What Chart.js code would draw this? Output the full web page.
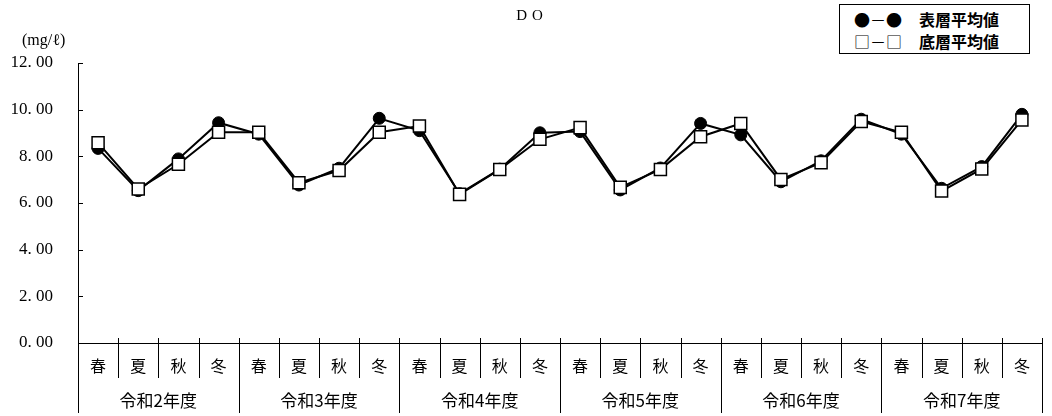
<!DOCTYPE html>
<html>
<head>
<meta charset="utf-8">
<script src="https://cdn.jsdelivr.net/npm/chart.js@4/dist/chart.umd.min.js"></script>
<style>
  html, body { margin: 0; padding: 0; background: #fff; }
  #wrap { position: relative; width: 1052px; height: 416px; overflow: hidden; }
  canvas { position: absolute; left: 0; top: 0; }
  .title { position: absolute; left: 480px; width: 104px; top: 7px; text-align: center;
           font-family: "Liberation Serif", "DejaVu Serif", serif; font-size: 15px; letter-spacing: 5px; color: #000; }
  .unit { position: absolute; left: 22px; top: 31px; font-family: "Liberation Serif", "DejaVu Serif", serif;
          font-size: 16px; color: #000; }
  .legend { position: absolute; left: 839px; top: 4px; width: 189px; height: 48px; border: 1.5px solid #000;
            background: #fff; font-family: "Noto Sans CJK JP", "Noto Sans", sans-serif; color: #000; }
  .row { position: absolute; left: 14px; height: 22px; line-height: 22px; white-space: nowrap; }
  .sym { display: inline-block; width: 65px; font-size: 16px; font-family: "Noto Sans CJK JP", sans-serif; }
  .lab { font-size: 16px; font-weight: bold; }
</style>
</head>
<body>
<div id="wrap">
  <canvas id="c" width="1052" height="416"></canvas>
  <div class="title">DO</div>
  <div class="unit">(mg/ℓ)</div>
  <div class="legend">
    <div class="row" style="top:3px;"><span class="sym">●－●</span><span class="lab">表層平均値</span></div>
    <div class="row" style="top:25px;"><span class="sym">□－□</span><span class="lab">底層平均値</span></div>
  </div>
</div>
<script>
const seasons = ["春","夏","秋","冬","春","夏","秋","冬","春","夏","秋","冬","春","夏","秋","冬","春","夏","秋","冬","春","夏","秋","冬"];
const years = ["令和2年度","令和3年度","令和4年度","令和5年度","令和6年度","令和7年度"];
const surfaceAvg = [8.34, 6.53, 7.89, 9.44, 8.95, 6.77, 7.49, 9.63, 9.10, 6.40, 7.45, 9.01, 9.06, 6.56, 7.50, 9.41, 8.92, 6.91, 7.81, 9.59, 8.95, 6.63, 7.56, 9.80];
const bottomAvg  = [8.58, 6.60, 7.66, 9.03, 9.03, 6.87, 7.39, 9.03, 9.30, 6.37, 7.44, 8.73, 9.23, 6.67, 7.44, 8.84, 9.41, 7.01, 7.73, 9.49, 9.03, 6.51, 7.46, 9.56];
const yTicks = [0, 2, 4, 6, 8, 10, 12];

const separators = {
  id: 'separators',
  afterDraw(chart) {
    const ctx = chart.ctx;
    const xs = chart.scales.x, ys = chart.scales.y, x2 = chart.scales.x2;
    const step = xs.getPixelForValue(1) - xs.getPixelForValue(0);
    const base = chart.chartArea.bottom;
    ctx.save();
    ctx.strokeStyle = '#000';
    ctx.lineWidth = 1;
    for (let i = 0; i <= seasons.length; i++) {
      const x = Math.round(xs.getPixelForValue(0) - step / 2 + i * step) + 0.5;
      const yEnd = (i % 4 === 0) ? x2.bottom : xs.bottom;
      ctx.beginPath();
      ctx.moveTo(x, base - 5);
      ctx.lineTo(x, yEnd);
      ctx.stroke();
    }
    yTicks.forEach(v => {
      const y = Math.round(ys.getPixelForValue(v)) + 0.5;
      ctx.beginPath();
      ctx.moveTo(chart.chartArea.left, y);
      ctx.lineTo(chart.chartArea.left + 5, y);
      ctx.stroke();
    });
    ctx.restore();
  }
};

new Chart(document.getElementById('c'), {
  type: 'line',
  data: {
    labels: seasons,
    datasets: [
      {
        label: '表層平均値', data: surfaceAvg, order: 1,
        borderColor: '#000', borderWidth: 2, tension: 0,
        pointStyle: 'circle', pointRadius: 6, pointHoverRadius: 6,
        pointBackgroundColor: '#000', pointBorderColor: '#000', pointBorderWidth: 1
      },
      {
        label: '底層平均値', data: bottomAvg, order: 0,
        borderColor: '#000', borderWidth: 2, tension: 0,
        pointStyle: 'rect', pointRadius: 8.5, pointHoverRadius: 8.5,
        pointBackgroundColor: '#fff', pointBorderColor: '#000', pointBorderWidth: 1.5
      }
    ]
  },
  options: {
    responsive: false,
    animation: false,
    layout: { padding: { top: 63, left: 0, right: 0, bottom: 3 } },
    plugins: { legend: { display: false }, tooltip: { enabled: false }, title: { display: false } },
    scales: {
      y: {
        min: 0, max: 12,
        afterFit(s) { s.width = 78; },
        afterBuildTicks(s) { s.ticks = yTicks.map(v => ({ value: v })); },
        ticks: {
          padding: 25, color: '#000',
          font: { family: '"Liberation Serif", "DejaVu Serif", serif', size: 17 },
          callback: v => Number(v).toFixed(2).replace('.', '. ')
        },
        grid: { drawOnChartArea: false, drawTicks: false, color: 'rgba(0,0,0,0)' },
        border: { display: true, color: '#000', width: 1 }
      },
      x: {
        type: 'category', position: 'bottom', offset: true, weight: 0,
        afterFit(s) { s.height = 35; },
        ticks: {
          padding: 13, color: '#000', maxRotation: 0, autoSkip: false,
          font: { family: '"Noto Sans CJK JP", sans-serif', size: 16 }
        },
        grid: { drawOnChartArea: false, drawTicks: false, color: 'rgba(0,0,0,0)', offset: true },
        border: { display: true, color: '#000', width: 1 }
      },
      x2: {
        type: 'category', position: 'bottom', offset: true, weight: 1,
        labels: years,
        afterFit(s) { s.height = 35; },
        ticks: {
          padding: 12, color: '#000', maxRotation: 0, autoSkip: false,
          font: { family: '"Noto Sans CJK JP", sans-serif', size: 17 }
        },
        grid: { drawOnChartArea: false, drawTicks: false, color: 'rgba(0,0,0,0)', offset: true },
        border: { display: false }
      }
    }
  },
  plugins: [separators]
});
</script>
</body>
</html>
